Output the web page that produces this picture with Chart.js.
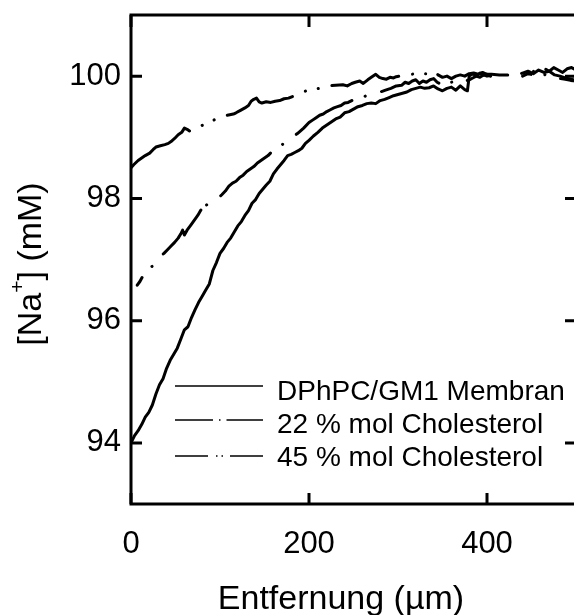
<!DOCTYPE html>
<html>
<head>
<meta charset="utf-8">
<script src="https://cdn.jsdelivr.net/npm/chart.js@4"></script>
<style>
  html, body { margin: 0; padding: 0; background: #fff; overflow: hidden; }
  #wrap { width: 578px; height: 615px; }
</style>
</head>
<body>
<div id="wrap"><canvas id="c" width="578" height="615"></canvas></div>
<script>
// ---- Data ----
const X_TICKS = [0, 200, 400];
const Y_TICKS = [94, 96, 98, 100];
const X_MIN = 0, X_MAX = 500, Y_MIN = 93, Y_MAX = 101;

const LABELS = ['DPhPC/GM1 Membran', '22 % mol Cholesterol', '45 % mol Cholesterol'];
const X_TITLE = 'Entfernung (µm)';

const membranX = [0,4,8,12,16,20,24,28,32,36,40,44,48,52,56,60,64,68,72,76,80,84,88,92,96,100,104,108,112,116,120,124,128,132,136,140,144,148,152,156,160,164,168,172,176,180,184,188,192,196,200,205,210,215,220,225,230,235,240,245,250,255,260,265,270,275,280,285,290,295,300,305,310,315,320,325,330,335,340,345,350,355,360,365,370,375,378,380,384,388,392,396,400,404,420,440,446,452,458,464,470,476,482,488,494,500];
const membranY = [94.0,94.12,94.2,94.3,94.42,94.5,94.62,94.8,94.95,95.05,95.22,95.35,95.45,95.55,95.7,95.85,95.9,96.05,96.18,96.3,96.4,96.5,96.6,96.82,96.95,97.1,97.18,97.28,97.35,97.45,97.55,97.62,97.72,97.8,97.92,97.98,98.08,98.15,98.22,98.28,98.4,98.48,98.55,98.62,98.7,98.72,98.75,98.78,98.82,98.9,98.95,99.02,99.08,99.15,99.2,99.25,99.3,99.33,99.4,99.42,99.46,99.5,99.52,99.55,99.56,99.55,99.6,99.62,99.65,99.68,99.7,99.72,99.74,99.78,99.8,99.82,99.8,99.81,99.84,99.79,99.76,99.8,99.82,99.77,99.84,99.78,99.76,100.0,100.04,100.0,100.05,100.02,100.03,100.0,null,100.05,100.08,100.04,100.1,100.06,100.08,100.02,100.0,99.97,99.95,99.93];

const chol22X = [7,10,13,17,21,25,29,33,37,41,45,49,53,56,58,60,63,67,71,75,79,82,84,88,92,97,102,106,110,114,118,122,126,130,134,138,142,146,150,154,158,162,166,170,175,180,187,194,200,204,208,212,216,220,224,228,232,236,240,244,248,252,256,260,264,268,274,280,286,292,298,304,308,312,316,320,324,328,332,336,340,344,348,352,356,360,364,368,372,376,380,384,388,392,396,400,404,420,440,446,452,458,464,470,476,482,488,494,500];
const chol22Y = [96.58,96.64,96.72,96.8,96.86,96.9,96.96,97.05,97.1,97.16,97.22,97.28,97.35,97.42,97.48,97.4,97.48,97.56,97.64,97.72,97.82,97.95,97.88,97.93,97.96,97.99,98.06,98.12,98.2,98.25,98.28,98.34,98.38,98.44,98.48,98.52,98.58,98.62,98.66,98.7,98.76,98.8,98.84,98.88,98.95,98.99,99.06,99.15,99.24,99.28,99.32,99.36,99.38,99.42,99.45,99.48,99.5,99.52,99.56,99.57,99.6,99.62,99.6,99.64,99.68,99.7,99.72,99.74,99.77,99.8,99.84,99.85,99.9,99.88,99.92,99.94,99.88,99.92,99.9,99.94,99.96,99.9,99.87,99.9,99.86,99.9,99.92,99.88,99.9,99.92,99.94,99.97,100.0,99.98,100.02,100.0,100.01,null,100.0,100.04,100.02,100.06,100.02,100.04,99.98,99.96,99.95,99.93,99.92];

const chol45X = [0,3,8,12,16,21,25,28,33,38,42,45,49,53,57,60,63,66,70,78,86,93,100,108,115,118,123,128,132,135,138,141,144,147,152,157,162,167,172,177,182,190,197,203,212,221,230,238,243,248,252,257,261,266,270,275,279,283,287,291,295,298,305,312,319,326,334,341,345,350,355,360,365,370,375,380,385,390,395,400,405,414,421,428,435,440,445,450,455,460,465,470,475,480,485,490,495,500];
const chol45Y = [98.5,98.55,98.62,98.66,98.7,98.74,98.8,98.84,98.86,98.88,98.9,98.93,98.98,99.04,99.08,99.15,99.13,99.1,99.12,99.18,99.24,99.28,99.33,99.36,99.38,99.4,99.44,99.48,99.52,99.59,99.62,99.64,99.58,99.56,99.58,99.57,99.59,99.6,99.63,99.64,99.67,99.72,99.76,99.78,99.8,99.84,99.85,99.86,99.84,99.88,99.9,99.92,99.88,99.94,99.98,100.03,99.98,99.96,99.95,99.98,99.97,99.99,100.01,100.02,100.04,100.04,100.04,100.08,100.02,99.98,100.0,99.96,100.0,100.02,100.0,100.04,100.05,100.03,100.06,100.03,100.03,100.02,100.02,100.02,100.03,100.05,100.06,100.1,100.05,100.1,100.12,100.08,100.14,100.1,100.06,100.12,100.14,100.1];

const toPts = (xs, ys) => xs.map((x, i) => ({ x: x, y: ys[i] }));

const FONT = "'Liberation Sans', Arial, Helvetica, sans-serif";

const framePlugin = {
  id: 'frame',
  afterDraw(chart) {
    const { ctx, chartArea: a, scales: { x, y } } = chart;
    ctx.save();
    ctx.strokeStyle = '#000';
    ctx.lineWidth = 3;
    ctx.lineCap = 'butt';
    ctx.strokeRect(a.left, a.top, a.right - a.left, a.bottom - a.top);
    ctx.beginPath();
    X_TICKS.forEach(v => {
      const px = x.getPixelForValue(v);
      ctx.moveTo(px, a.bottom); ctx.lineTo(px, a.bottom - 11);
      ctx.moveTo(px, a.top); ctx.lineTo(px, a.top + 12);
    });
    Y_TICKS.forEach(v => {
      const py = y.getPixelForValue(v);
      ctx.moveTo(a.left, py); ctx.lineTo(a.left + 11, py);
      ctx.moveTo(a.right, py); ctx.lineTo(a.right - 11, py);
    });
    ctx.stroke();

    // legend
    const rows = [
      { dash: [], ly: 386, ty: 392 },
      { dash: [38, 6, 1.5, 6, 60], ly: 420, ty: 425 },
      { dash: [33, 8, 1.5, 4, 1.5, 7, 60], ly: 456, ty: 458 }
    ];
    ctx.lineWidth = 1.5;
    ctx.fillStyle = '#000';
    ctx.font = '28px ' + FONT;
    ctx.textBaseline = 'middle';
    ctx.textAlign = 'left';
    rows.forEach((r, i) => {
      ctx.setLineDash(r.dash);
      ctx.beginPath();
      ctx.moveTo(175, r.ly); ctx.lineTo(263, r.ly);
      ctx.stroke();
      ctx.fillText(chart.data.datasets[i].label, 277, r.ty);
    });
    ctx.setLineDash([]);

    // x axis title
    ctx.font = '34px ' + FONT;
    ctx.textAlign = 'center';
    ctx.textBaseline = 'alphabetic';
    ctx.fillText(X_TITLE, 341, 609);

    // y axis title with superscript
    const f = 34;
    ctx.textAlign = 'left';
    ctx.textBaseline = 'middle';
    ctx.translate(32, 264);
    ctx.rotate(-Math.PI / 2);
    ctx.font = f + 'px ' + FONT;
    const p1 = '[Na', p3 = '] (mM)';
    const w1 = ctx.measureText(p1).width;
    const w3 = ctx.measureText(p3).width;
    ctx.font = Math.round(f * 0.62) + 'px ' + FONT;
    const w2 = ctx.measureText('+').width;
    const sx = -(w1 + w2 + w3) / 2;
    ctx.font = f + 'px ' + FONT;
    ctx.fillText(p1, sx, 0);
    ctx.fillText(p3, sx + w1 + w2, 0);
    ctx.font = Math.round(f * 0.62) + 'px ' + FONT;
    ctx.fillText('+', sx + w1, -f * 0.4);
    ctx.restore();
  }
};

const common = { borderColor: '#000', backgroundColor: '#000', borderWidth: 3, pointRadius: 0, tension: 0, fill: false, spanGaps: false, borderCapStyle: 'round', borderJoinStyle: 'round' };

new Chart(document.getElementById('c'), {
  type: 'line',
  data: {
    datasets: [
      Object.assign({ label: LABELS[0], data: toPts(membranX, membranY) }, common),
      Object.assign({ label: LABELS[1], data: toPts(chol22X, chol22Y), borderDash: [66, 15, 0.1, 17], borderDashOffset: 57 }, common),
      Object.assign({ label: LABELS[2], data: toPts(chol45X, chol45Y), borderDash: [74, 14, 0.1, 13, 0.1, 14] }, common)
    ]
  },
  options: {
    responsive: false,
    devicePixelRatio: 1,
    animation: false,
    layout: { padding: { top: 15, right: 2, left: 0, bottom: 0 } },
    plugins: { legend: { display: false }, tooltip: { enabled: false } },
    scales: {
      x: {
        type: 'linear', min: X_MIN, max: X_MAX,
        grid: { display: false, drawTicks: false },
        border: { display: false },
        afterBuildTicks: s => { s.ticks = X_TICKS.map(v => ({ value: v })); },
        afterFit: s => { s.height = 111; s.paddingLeft = 0; s.paddingRight = 0; },
        ticks: { color: '#000', font: { family: FONT, size: 31 }, padding: 22, maxRotation: 0 },
        title: { display: false }
      },
      y: {
        type: 'linear', min: Y_MIN, max: Y_MAX,
        grid: { display: false, drawTicks: false },
        border: { display: false },
        afterBuildTicks: s => { s.ticks = Y_TICKS.map(v => ({ value: v })); },
        afterFit: s => { s.width = 131; s.paddingTop = 0; s.paddingBottom = 0; },
        ticks: { color: '#000', font: { family: FONT, size: 31 }, padding: 10 },
        title: { display: false }
      }
    }
  },
  plugins: [framePlugin]
});
</script>
</body>
</html>
